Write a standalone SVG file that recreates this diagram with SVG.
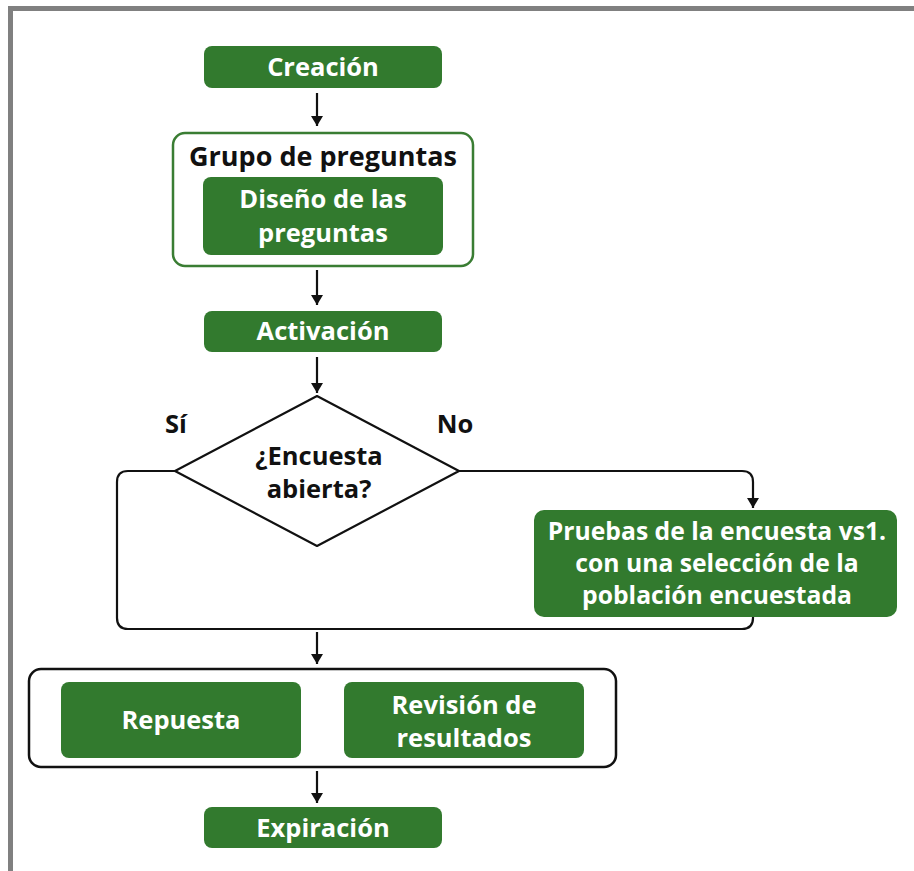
<svg xmlns="http://www.w3.org/2000/svg" width="914" height="871" viewBox="0 0 914 871">
  <defs>
    <marker id="arrow" viewBox="0 0 10 12" refX="10" refY="6" markerWidth="10" markerHeight="12" markerUnits="userSpaceOnUse" orient="auto">
      <path d="M0,0 L10,6 L0,12 Z" fill="#111"/>
    </marker>
    <style>
      .step { fill: #327a2e; }
      .wt { font-family: "Open Sans", "Liberation Sans", sans-serif; font-weight: 700; font-size: 25.5px; fill: #ffffff; text-anchor: middle; }
      .bt { font-family: "Open Sans", "Liberation Sans", sans-serif; font-weight: 700; font-size: 25.5px; fill: #111111; text-anchor: middle; }
      .link { fill: none; stroke: #111; stroke-width: 2.2; }
      .frame { fill: #808080; }
    </style>
  </defs>

  <rect width="914" height="871" fill="#ffffff"/>
  <!-- page frame -->
  <rect class="frame" x="8" y="6" width="906" height="5"/>
  <rect class="frame" x="8" y="6" width="5" height="865"/>

  <!-- connectors -->
  <g id="connectors">
    <line class="link" x1="317" y1="93" x2="317" y2="126" marker-end="url(#arrow)"/>
    <line class="link" x1="317" y1="270" x2="317" y2="305" marker-end="url(#arrow)"/>
    <line class="link" x1="317" y1="357" x2="317" y2="393" marker-end="url(#arrow)"/>
    <path class="link" d="M459,471 H742 Q753,471 753,482 V508" marker-end="url(#arrow)"/>
    <path class="link" d="M175,471 H128 Q117,471 117,482 V618 Q117,629 128,629 H742 Q753,629 753,618 V617"/>
    <line class="link" x1="317" y1="632" x2="317" y2="664" marker-end="url(#arrow)"/>
    <line class="link" x1="317" y1="771" x2="317" y2="803" marker-end="url(#arrow)"/>
  </g>

  <g id="creacion">
    <rect class="step" x="204" y="46" width="238" height="42" rx="8"/>
    <text class="wt" x="323" y="76">Creación</text>
  </g>

  <g id="grupo-preguntas">
    <rect x="173" y="133" width="300" height="133" rx="12" fill="#ffffff" stroke="#3a7d33" stroke-width="2.5"/>
    <text class="bt" x="323" y="166" style="font-size:27px">Grupo de preguntas</text>
  </g>

  <g id="diseno">
    <rect class="step" x="203" y="177" width="240" height="78" rx="8"/>
    <text class="wt" x="323" y="208">Diseño de las</text>
    <text class="wt" x="323" y="242">preguntas</text>
  </g>

  <g id="activacion">
    <rect class="step" x="204" y="311" width="238" height="41" rx="8"/>
    <text class="wt" x="323" y="340">Activación</text>
  </g>

  <g id="decision">
    <path d="M317,396 L459,471 L317,546 L175,471 Z" fill="#ffffff" stroke="#111" stroke-width="2.2" stroke-linejoin="round"/>
    <text class="bt" x="319" y="465">¿Encuesta</text>
    <text class="bt" x="319" y="498">abierta?</text>
    <text class="bt" x="176" y="433">Sí</text>
    <text class="bt" x="455" y="433">No</text>
  </g>

  <g id="pruebas">
    <rect class="step" x="534" y="510" width="363" height="107" rx="10"/>
    <text class="wt" x="717" y="540" style="font-size:24.7px">Pruebas de la encuesta vs1.</text>
    <text class="wt" x="717" y="572" style="font-size:24.7px">con una selección de la</text>
    <text class="wt" x="717" y="604" style="font-size:24.7px">población encuestada</text>
  </g>

  <g id="respuesta-revision">
    <rect x="29" y="669" width="587" height="98" rx="12" fill="#ffffff" stroke="#111" stroke-width="2.5"/>
  </g>

  <g id="repuesta">
    <rect class="step" x="61" y="682" width="240" height="76" rx="8"/>
    <text class="wt" x="181" y="729">Repuesta</text>
  </g>

  <g id="revision">
    <rect class="step" x="344" y="682" width="240" height="76" rx="8"/>
    <text class="wt" x="464" y="714">Revisión de</text>
    <text class="wt" x="464" y="747">resultados</text>
  </g>

  <g id="expiracion">
    <rect class="step" x="204" y="807" width="238" height="41" rx="8"/>
    <text class="wt" x="323" y="837">Expiración</text>
  </g>
</svg>
